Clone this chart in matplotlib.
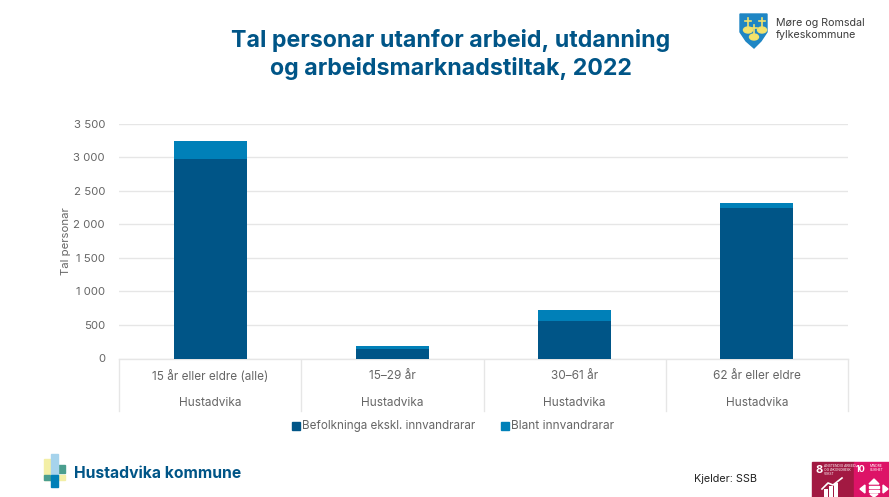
import numpy as np
import matplotlib.pyplot as plt
from matplotlib.patches import Polygon, Rectangle, Ellipse

plt.rcParams['font.family'] = ['Inter', 'DejaVu Sans']

# Data
categories = ['15 år eller eldre (alle)', '15\u201329 år', '30\u201361 år', '62 år eller eldre']
region = 'Hustadvika'
befolkning = [2965, 140, 560, 2245]
innvandrarar = [275, 45, 165, 65]
yticks = [0, 500, 1000, 1500, 2000, 2500, 3000, 3500]
ylabels = ['0', '500', '1 000', '1 500', '2 000', '2 500', '3 000', '3 500']

W, H = 889, 497
DARK = '#005587'
LIGHT = '#0080B8'
GRID = '#E6E6E6'
TXT = '#666666'
TITLE = '#005587'

fig = plt.figure(figsize=(W/100, H/100), dpi=100)

# overlay in pixel coordinates for logos and footer
bg = fig.add_axes([0, 0, 1, 1])
bg.set_xlim(0, W)
bg.set_ylim(H, 0)
bg.axis('off')

# main chart
x0, x1, ytop, ybot = 119, 848, 123.5, 358.5
ax = fig.add_axes([x0/W, 1-ybot/H, (x1-x0)/W, (ybot-ytop)/H])
x = np.arange(len(categories))
ax.bar(x, befolkning, width=0.4, color=DARK, label='Befolkninga ekskl. innvandrarar', zorder=3)
ax.bar(x, innvandrarar, width=0.4, bottom=befolkning, color=LIGHT, label='Blant innvandrarar', zorder=3)
ax.set_xlim(-0.5, 3.5)
ax.set_ylim(0, 3500)
ax.set_yticks(yticks)
ax.set_yticklabels(ylabels, fontsize=8.2, color=TXT)
ax.set_xticks([])
ax.tick_params(axis='y', length=0, pad=10)
ax.grid(axis='y', color=GRID, lw=1, zorder=0)
ax.set_axisbelow(True)
for s in ['top', 'right', 'left']:
    ax.spines[s].set_visible(False)
ax.spines['bottom'].set_color(GRID)
ax.spines['bottom'].set_linewidth(1)
ax.set_ylabel('Tal personar', fontsize=8.2, color=TXT)
ax.yaxis.set_label_coords((71-x0)/(x1-x0), 0.5)

# two level category axis
for i, c in enumerate(categories):
    cx = x0 + (i+0.5)*(x1-x0)/4
    bg.text(cx, 376, c, ha='center', va='center', fontsize=8.5, color=TXT)
    bg.text(cx, 403, region, ha='center', va='center', fontsize=8.5, color=TXT)
for i in range(5):
    sx = x0 + i*(x1-x0)/4
    bg.plot([sx, sx], [358.5, 411], color=GRID, lw=1)

# legend
bg.add_patch(Rectangle((292, 422), 8, 8, color=DARK))
bg.text(302, 426, 'Befolkninga ekskl. innvandrarar', va='center', fontsize=8.4, color=TXT)
bg.add_patch(Rectangle((501, 422), 8, 8, color=LIGHT))
bg.text(511, 426, 'Blant innvandrarar', va='center', fontsize=8.6, color=TXT)

# title
bg.text(451, 41, 'Tal personar utanfor arbeid, utdanning', ha='center', va='center',
        fontsize=16.7, fontweight='bold', color=TITLE)
bg.text(451, 68, 'og arbeidsmarknadstiltak, 2022', ha='center', va='center',
        fontsize=16.7, fontweight='bold', color=TITLE)

# county logo
bg.add_patch(Polygon([(740, 14), (767, 14), (767, 32), (761, 41), (754, 48), (746, 41), (740, 32)],
                     color='#1F86C4'))
for ex, ey in [(748, 30), (762, 30), (754, 37)]:
    bg.add_patch(Ellipse((ex, ey), 9, 6, color='#F3E26B'))
    bg.plot([ex, ex], [ey-12, ey], color='#F3E26B', lw=1.2)
    bg.plot([ex-3, ex+3], [ey-9, ey-9], color='#F3E26B', lw=1.2)
bg.text(776, 23, 'Møre og Romsdal', va='center', fontsize=7.7, color='#3C3C3C')
bg.text(776, 35, 'fylkeskommune', va='center', fontsize=7.7, color='#3C3C3C')

# municipality logo
bg.add_patch(Rectangle((44, 459), 7, 21, color='#F3EFA6'))
bg.add_patch(Rectangle((58, 465), 7, 8, color='#4A9E8E'))
bg.add_patch(Rectangle((44, 475), 7, 5, color='#4A9E8E'))
bg.add_patch(Rectangle((58, 475), 7, 5, color='#F3EFA6'))
bg.add_patch(Rectangle((51, 454), 7, 21, color='#A6D3EC'))
bg.add_patch(Rectangle((51, 475), 7, 12, color='#0080B8'))
bg.text(74, 474, 'Hustadvika kommune', va='center', fontsize=11.3, fontweight='bold', color='#005587')

# source and SDG tiles
bg.text(694, 479.5, 'Kjelder: SSB', va='center', fontsize=7.8, color='#222222')
bg.add_patch(Rectangle((812, 462), 42, 35, color='#A21942'))
bg.add_patch(Rectangle((854, 462), 35, 35, color='#DD1367'))
bg.text(815, 470, '8', color='white', fontsize=8, fontweight='bold', va='center')
bg.text(856, 470, '10', color='white', fontsize=6.5, fontweight='bold', va='center')
for ty, tlabel in [(466, 'ANSTENDIG ARBEID'), (470, 'OG ØKONOMISK'), (474, 'VEKST')]:
    bg.text(824, ty, tlabel, color='white', fontsize=2.4, va='center')
for ty, tlabel in [(466, 'MINDRE'), (470, 'ULIKHET')]:
    bg.text(870, ty, tlabel, color='white', fontsize=2.4, va='center')
bg.bar([826, 831, 836], [8, 11, 14], width=3.5, bottom=[497-8, 497-11, 497-14], color='white')
bg.plot([822, 828, 833, 842], [489, 483, 485, 478], color='white', lw=1.2)
bg.add_patch(Polygon([(874, 479), (879, 484), (869, 484)], color='white'))
bg.add_patch(Rectangle((869, 486), 10, 2, color='white'))
bg.add_patch(Rectangle((869, 490), 10, 2, color='white'))
bg.add_patch(Polygon([(860, 489), (865, 485), (865, 493)], color='white'))
bg.add_patch(Polygon([(888, 489), (883, 485), (883, 493)], color='white'))
bg.add_patch(Polygon([(874, 497), (870, 494), (878, 494)], color='white'))

ax.set_zorder(1)
fig.savefig('out.png', dpi=100)
